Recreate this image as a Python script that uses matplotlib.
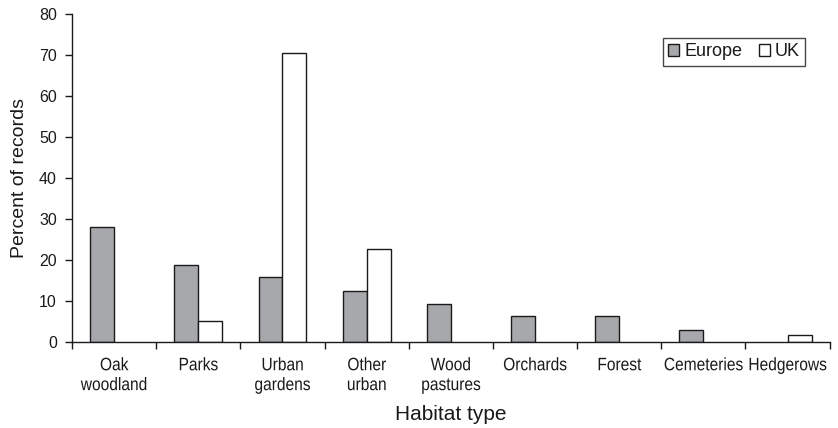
import matplotlib
matplotlib.use("Agg")
import matplotlib.pyplot as plt
import numpy as np
from matplotlib.ticker import FixedLocator
from matplotlib.patheffects import AbstractPathEffect
from matplotlib.transforms import Affine2D

# data
habitats = ["Oak\nwoodland", "Parks", "Urban\ngardens", "Other\nurban", "Wood\npastures",
            "Orchards", "Forest", "Cemeteries", "Hedgerows"]
europe = [28.0, 18.8, 15.8, 12.5, 9.3, 6.3, 6.3, 2.9, 0.0]
uk = [0.0, 5.2, 70.4, 22.7, 0.0, 0.0, 0.0, 0.0, 1.8]


class Condense(AbstractPathEffect):
    # squeeze text horizontally around each line's centre (narrow font look)
    def __init__(self, sx=0.85):
        super().__init__()
        self.sx = sx

    def draw_path(self, renderer, gc, tpath, affine, rgbFace=None):
        ext = tpath.get_extents()
        cx = (ext.x0 + ext.x1) / 2
        t = Affine2D().translate(-cx, 0).scale(self.sx, 1).translate(cx, 0) + affine
        renderer.draw_path(gc, tpath, t, rgbFace)


plt.rcParams['font.family'] = ['Liberation Sans', 'DejaVu Sans']

fig = plt.figure(figsize=(8.38, 4.28), dpi=100)
ax = fig.add_axes([0.086, 0.201, 0.904, 0.766])

x = np.arange(len(habitats))
w = 0.285
europe_h = [v if v > 0 else np.nan for v in europe]
uk_h = [v if v > 0 else np.nan for v in uk]
ax.bar(x - w / 2, europe_h, w, color='#a7a8ab', edgecolor='#1a1a1a', linewidth=1.0, label='Europe')
ax.bar(x + w / 2, uk_h, w, color='white', edgecolor='#1a1a1a', linewidth=1.0, label='UK')

ax.set_xlim(-0.5, len(habitats) - 0.5)
ax.set_ylim(0, 80)
ax.set_yticks(np.arange(0, 81, 10))
ax.set_xticks(x)
ax.set_xticklabels(habitats, fontsize=13, linespacing=1.22, color='#1a1a1a')
for lab in ax.get_xticklabels():
    lab.set_path_effects([Condense(0.86)])
ax.tick_params(axis='x', length=0, pad=11)
ax.xaxis.set_minor_locator(FixedLocator(np.arange(-0.5, len(habitats), 1)))
ax.tick_params(axis='x', which='minor', length=5, direction='out', width=1, color='#1a1a1a')
ax.tick_params(axis='y', length=5, direction='out', width=1, labelsize=11.5, pad=6,
               color='#1a1a1a', labelcolor='#1a1a1a')

for s in ['top', 'right']:
    ax.spines[s].set_visible(False)
for s in ['left', 'bottom']:
    ax.spines[s].set_linewidth(1.0)
    ax.spines[s].set_color('#1a1a1a')

ax.set_ylabel("Percent of records", fontsize=14, color='#1a1a1a', labelpad=8)
ax.set_xlabel("Habitat type", fontsize=15, color='#1a1a1a', labelpad=8)

leg = ax.legend(loc='upper right', bbox_to_anchor=(0.968, 0.928), ncol=2, frameon=True, fancybox=False,
                edgecolor='#1a1a1a', handlelength=0.6, handleheight=0.6, handletextpad=0.3,
                columnspacing=0.9, borderpad=0.3, borderaxespad=0, prop={'size': 13})
leg.get_frame().set_linewidth(1.0)
for t in leg.get_texts():
    t.set_color('#1a1a1a')

fig.savefig("out.png", dpi=100)
